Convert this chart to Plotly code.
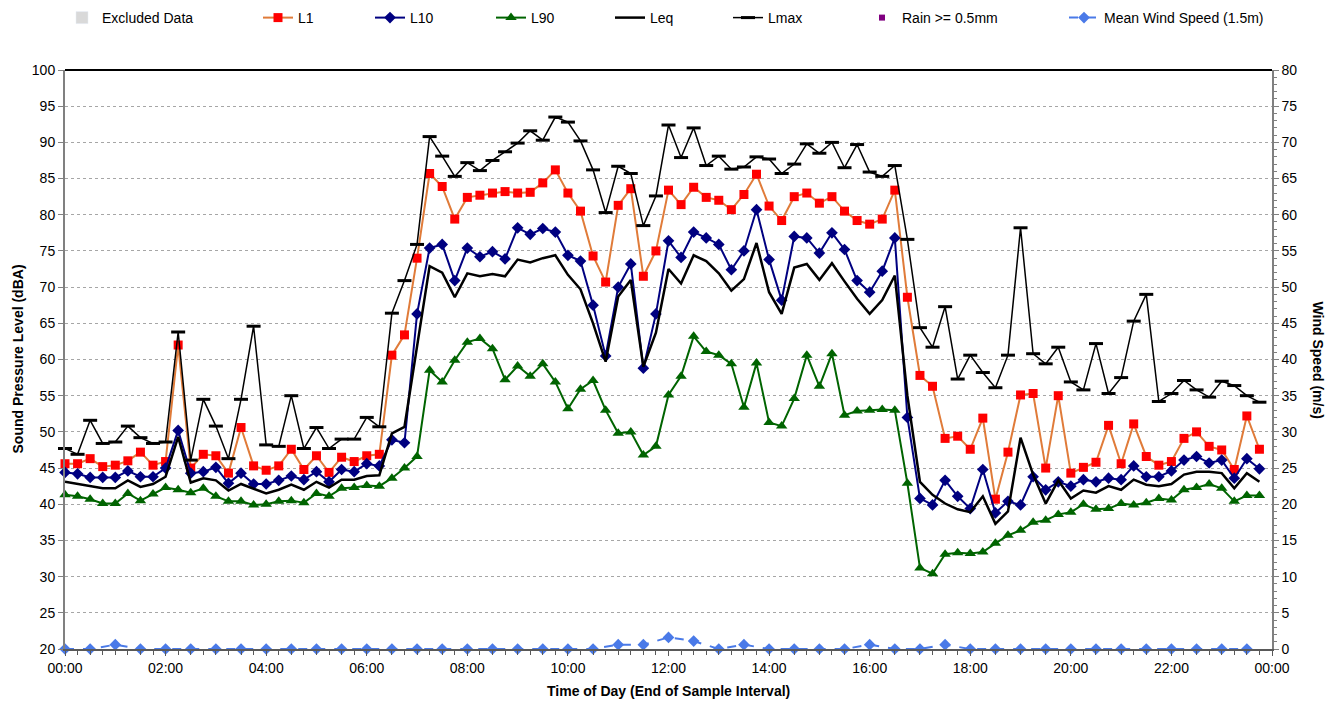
import pandas as pd
import plotly.graph_objects as go

# 15-minute noise statistics, 00:00 to 23:45 (end of sample interval)
times = pd.date_range("2024-01-01 00:00", periods=96, freq="15min")
# mean wind speed at 1.5 m, 30-minute intervals
wind_times = pd.date_range("2024-01-01 00:00", periods=48, freq="30min")

l1 = [45.6, 45.6, 46.3, 45.2, 45.4, 46.0, 47.2, 45.4, 45.9, 62.0, 45.0, 46.9, 46.7,
      44.3, 50.6, 45.3, 44.7, 45.3, 47.6, 44.8, 46.7, 44.4, 46.5, 45.9, 46.7,
      46.9, 60.6, 63.4, 74.0, 85.7, 83.9, 79.4, 82.4, 82.7, 83.0, 83.2, 83.0,
      83.1, 84.4, 86.2, 83.0, 80.5, 74.3, 70.7, 81.3, 83.6, 71.5, 75.0, 83.4,
      81.4, 83.8, 82.4, 82.0, 80.7, 82.8, 85.6, 81.2, 79.2, 82.5, 83.0, 81.6,
      82.5, 80.5, 79.2, 78.7, 79.4, 83.4, 68.6, 57.8, 56.3, 49.1, 49.4, 47.6,
      51.9, 40.7, 47.2, 55.1, 55.3, 45.0, 55.0, 44.3, 45.1, 45.8, 50.9, 45.6,
      51.1, 46.6, 45.4, 45.9, 49.1, 50.0, 48.0, 47.5, 44.8, 52.2, 47.6]

l10 = [44.4, 44.2, 43.7, 43.7, 43.7, 44.6, 43.8, 43.8, 45.0, 50.2, 44.3, 44.5, 45.1,
       42.9, 44.3, 42.8, 42.8, 43.3, 43.9, 43.4, 44.5, 43.1, 44.8, 44.5, 45.6,
       45.3, 48.9, 48.5, 66.3, 75.4, 75.9, 70.9, 75.4, 74.2, 74.9, 73.9, 78.2,
       77.3, 78.1, 77.6, 74.4, 73.6, 67.5, 60.5, 70.0, 73.2, 58.8, 66.3, 76.4,
       74.1, 77.6, 76.8, 75.9, 72.4, 75.0, 80.7, 73.8, 68.2, 77.0, 76.8, 74.7,
       77.5, 75.2, 70.9, 69.3, 72.2, 76.8, 52.0, 40.8, 39.9, 43.3, 41.1, 39.4,
       44.8, 38.8, 40.4, 39.9, 43.8, 42.0, 43.1, 42.5, 43.4, 43.1, 43.6, 43.4,
       45.3, 43.8, 43.8, 44.6, 46.1, 46.6, 45.7, 46.1, 43.6, 46.3, 44.9]

l90 = [41.3, 41.1, 40.7, 40.1, 40.1, 41.5, 40.5, 41.4, 42.3, 42.0, 41.6, 42.2, 41.1,
       40.4, 40.4, 39.9, 40.0, 40.4, 40.5, 40.2, 41.5, 41.1, 42.2, 42.3, 42.6,
       42.5, 43.6, 45.0, 46.6, 58.5, 56.9, 59.9, 62.4, 62.9, 61.5, 57.2, 59.1,
       57.7, 59.4, 56.9, 53.2, 55.9, 57.1, 53.0, 49.8, 50.0, 46.8, 48.0, 55.1,
       57.7, 63.2, 61.1, 60.6, 59.4, 53.4, 59.5, 51.3, 50.8, 54.6, 60.6, 56.3,
       60.8, 52.3, 52.9, 53.0, 53.1, 53.0, 42.9, 31.2, 30.4, 33.1, 33.3, 33.2,
       33.4, 34.6, 35.7, 36.4, 37.5, 37.8, 38.6, 38.9, 40.0, 39.3, 39.4, 40.1,
       39.9, 40.2, 40.8, 40.6, 42.0, 42.3, 42.8, 42.2, 40.4, 41.2, 41.2]

leq = [43.1, 42.8, 42.4, 42.2, 42.2, 43.3, 42.4, 42.8, 43.8, 49.3, 43.0, 43.6, 43.3,
       41.9, 42.8, 42.1, 41.5, 42.0, 42.7, 42.0, 43.1, 42.3, 43.4, 43.4, 43.9,
       44.0, 49.8, 50.7, 62.0, 72.9, 72.0, 68.6, 71.9, 71.5, 71.8, 71.5, 73.8,
       73.4, 74.0, 74.4, 71.7, 69.7, 65.0, 59.7, 68.7, 71.0, 59.0, 63.7, 72.5,
       70.5, 74.4, 73.6, 71.9, 69.5, 71.1, 76.1, 69.3, 66.3, 72.7, 73.2, 71.0,
       73.3, 70.8, 68.4, 66.3, 68.2, 71.6, 55.0, 43.1, 41.3, 40.1, 39.3, 38.9,
       41.1, 37.3, 39.0, 49.2, 44.1, 40.1, 43.3, 40.8, 41.9, 41.6, 42.5, 42.0,
       43.4, 42.7, 42.5, 42.8, 44.1, 44.5, 44.5, 44.3, 42.2, 44.3, 43.1]

lmax = [47.7, 46.9, 51.6, 48.4, 48.6, 50.8, 49.2, 48.4, 48.6, 63.8, 46.1, 54.5, 50.8,
        46.3, 54.5, 64.6, 48.2, 48.0, 55.0, 47.7, 50.6, 47.7, 49.0, 49.0, 52.0,
        50.7, 66.4, 70.9, 75.9, 90.8, 88.1, 85.3, 87.2, 86.1, 87.5, 88.7, 89.9,
        91.6, 90.3, 93.5, 92.8, 90.2, 86.2, 80.3, 86.7, 85.7, 78.5, 82.6, 92.4,
        87.9, 92.0, 86.8, 88.1, 86.3, 86.6, 88.0, 87.7, 85.7, 87.0, 89.8, 88.5,
        90.0, 86.5, 89.7, 85.9, 85.3, 86.8, 76.6, 64.4, 61.7, 67.3, 57.3, 60.6,
        58.2, 56.1, 60.6, 78.2, 60.8, 59.4, 61.7, 56.9, 55.8, 62.2, 55.3, 57.5,
        65.3, 69.0, 54.2, 55.3, 57.1, 55.8, 54.8, 57.0, 56.4, 55.0, 54.1]

wind = [0.0, 0.0, 0.6, 0.0, 0.0, 0.0, 0.0, 0.0, 0.0, 0.0, 0.0, 0.0,
        0.0, 0.0, 0.0, 0.0, 0.0, 0.0, 0.0, 0.0, 0.0, 0.0, 0.6, 0.6,
        1.6, 1.1, 0.0, 0.6, 0.0, 0.0, 0.0, 0.0, 0.6, 0.0, 0.0, 0.6,
        0.0, 0.0, 0.0, 0.0, 0.0, 0.0, 0.0, 0.0, 0.0, 0.0, 0.0, 0.0]

FONT = "Liberation Sans, Arial, sans-serif"
W, H = 1337, 704
PLOT_L, PLOT_R = 65, 1272

# legend slots along the top row (left edge in pixels)
legend_left = {"legend": 62, "legend2": 258, "legend3": 370, "legend4": 491,
               "legend5": 610, "legend6": 728, "legend7": 862, "legend8": 1064}

fig = go.Figure()

fig.add_trace(go.Bar(x=[None], y=[None], name="Excluded Data",
                     marker=dict(color="#D9D9D9"), legend="legend"))

fig.add_trace(go.Scatter(x=times, y=l1, name="L1", mode="lines+markers",
                         line=dict(color="#E07B39", width=2),
                         marker=dict(symbol="square", size=9, color="#FF0000"),
                         cliponaxis=False, legend="legend2"))

fig.add_trace(go.Scatter(x=times, y=l10, name="L10", mode="lines+markers",
                         line=dict(color="#000080", width=2),
                         marker=dict(symbol="diamond", size=9, color="#000080"),
                         cliponaxis=False, legend="legend3"))

fig.add_trace(go.Scatter(x=times, y=l90, name="L90", mode="lines+markers",
                         line=dict(color="#006400", width=2),
                         marker=dict(symbol="triangle-up", size=10, color="#006400"),
                         cliponaxis=False, legend="legend4"))

fig.add_trace(go.Scatter(x=times, y=leq, name="Leq", mode="lines",
                         line=dict(color="#000000", width=2.5),
                         cliponaxis=False, legend="legend5"))

fig.add_trace(go.Scatter(x=times, y=lmax, name="Lmax", mode="lines+markers",
                         line=dict(color="#000000", width=1.5),
                         marker=dict(symbol="line-ew", size=10, color="#000000",
                                     line=dict(color="#000000", width=3)),
                         cliponaxis=False, legend="legend6"))

fig.add_trace(go.Scatter(x=[None], y=[None], name="Rain >= 0.5mm", mode="markers",
                         marker=dict(symbol="square", size=6, color="#800080"),
                         legend="legend7"))

fig.add_trace(go.Scatter(x=wind_times, y=wind, name="Mean Wind Speed (1.5m)",
                         mode="lines+markers", yaxis="y2",
                         line=dict(color="#4A7AE8", width=2, dash="dash"),
                         marker=dict(symbol="diamond", size=9, color="#4A7AE8"),
                         cliponaxis=False, legend="legend8"))

legend_common = dict(orientation="h", xref="container", yref="container",
                     xanchor="left", yanchor="middle", y=1 - 18 / H,
                     bgcolor="rgba(0,0,0,0)", borderwidth=0,
                     font=dict(family=FONT, size=14, color="#000000"))
legends = {k: dict(legend_common, x=v / W) for k, v in legend_left.items()}


def paper_x(px):
    return (px - PLOT_L) / (PLOT_R - PLOT_L)


fig.update_layout(
    width=W, height=H,
    margin=dict(l=PLOT_L, r=W - PLOT_R, t=70, b=55),
    paper_bgcolor="white", plot_bgcolor="white",
    font=dict(family=FONT, size=14, color="#000000"),
    showlegend=True,
    **legends,
    xaxis=dict(
        type="date",
        range=["2024-01-01 00:00", "2024-01-02 00:00"],
        dtick=2 * 3600 * 1000, tickformat="%H:%M",
        ticks="outside", ticklen=5, tickcolor="#595959",
        minor=dict(dtick=15 * 60 * 1000, ticks="outside", ticklen=4,
                   tickcolor="#595959", showgrid=False),
        showgrid=False, zeroline=False,
        showline=True, linecolor="#595959", linewidth=1.5,
        tickfont=dict(size=14),
    ),
    yaxis=dict(
        range=[20, 100], dtick=5,
        ticks="outside", ticklen=5, tickcolor="#808080",
        showgrid=True, gridcolor="#A6A6A6", griddash="dot", gridwidth=1,
        zeroline=False, showline=True, linecolor="#808080", linewidth=2,
        tickfont=dict(size=14),
    ),
    yaxis2=dict(
        range=[0, 80], dtick=5, overlaying="y", side="right",
        ticks="outside", ticklen=5, tickcolor="#808080",
        minor=dict(dtick=1, ticks="outside", ticklen=3, tickcolor="#808080"),
        showgrid=False, zeroline=False,
        showline=True, linecolor="#808080", linewidth=1.5,
        tickfont=dict(size=14),
    ),
    shapes=[dict(type="line", xref="paper", yref="paper", x0=0, x1=1, y0=1, y1=1,
                 line=dict(color="#000000", width=2))],
    annotations=[
        dict(text="<b>Time of Day (End of Sample Interval)</b>", xref="paper", yref="paper",
             x=0.5, y=-0.072, xanchor="center", yanchor="middle", showarrow=False,
             font=dict(size=14, family=FONT)),
        dict(text="<b>Sound Pressure Level (dBA)</b>", xref="paper", yref="paper",
             x=paper_x(17), y=0.5, xanchor="center", yanchor="middle", showarrow=False,
             textangle=-90, font=dict(size=14, family=FONT)),
        dict(text="<b>Wind Speed (m/s)</b>", xref="paper", yref="paper",
             x=paper_x(1318), y=0.5, xanchor="center", yanchor="middle", showarrow=False,
             textangle=90, font=dict(size=14, family=FONT)),
    ],
)

fig.write_html("out.html")
